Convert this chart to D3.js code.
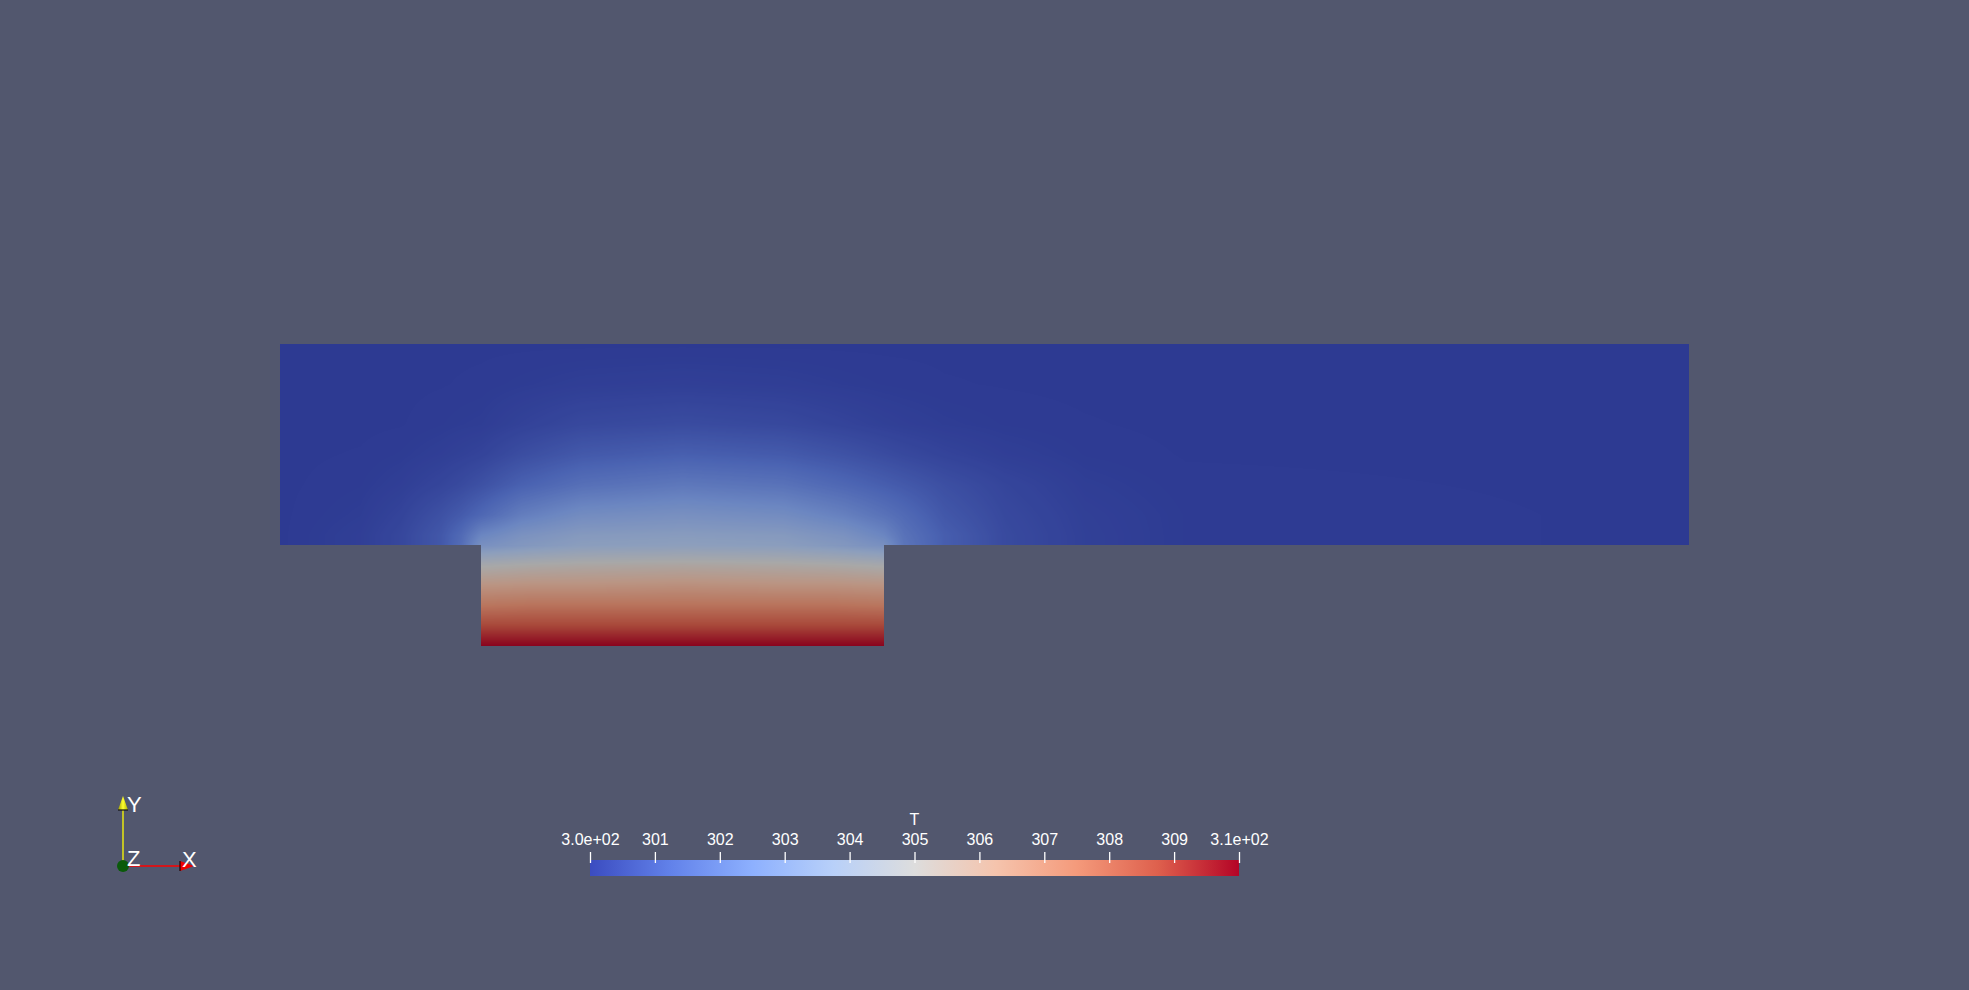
<!DOCTYPE html>
<html>
<head>
<meta charset="utf-8">
<script src="https://cdn.jsdelivr.net/npm/d3@7"></script>
<style>
  html, body { margin: 0; padding: 0; background: #52576e; overflow: hidden; }
  svg { display: block; }
  text { font-family: "Liberation Sans", Arial, sans-serif; fill: #ffffff; }
</style>
</head>
<body>
<script>
// ---------------- DATA ----------------
// Domain (data units): channel x 0..7, y 0..1 ; heated cavity x 1..3, y -0.5..0
const channelX = [0, 0.4, 0.6, 0.8, 0.9, 1.0, 1.2, 1.5, 2.0, 2.5, 2.8, 3.0, 3.1, 3.3, 3.6, 4.0, 4.5, 7];
const channelY = [0, 0.05, 0.15, 0.3, 0.45, 0.6, 0.8, 1.0];
// temperature T (K) sampled in the channel, one row per channelY value
const channelT = [
  [300, 300.15, 300.4, 300.9, 301.6, 303.0, 303.4, 303.7, 303.8, 303.7, 303.4, 303.0, 301.9, 301.1, 300.5, 300.2, 300.05, 300],
  [300, 300.15, 300.4, 300.9, 301.5, 302.5, 303.1, 303.5, 303.6, 303.5, 303.1, 302.5, 301.8, 301.1, 300.5, 300.2, 300.05, 300],
  [300, 300.1, 300.3, 300.7, 301.0, 301.4, 302.2, 302.8, 303.0, 302.8, 302.3, 301.8, 301.5, 300.9, 300.45, 300.18, 300.05, 300],
  [300, 300.05, 300.15, 300.35, 300.5, 300.7, 301.2, 301.7, 302.0, 301.8, 301.4, 301.1, 300.95, 300.65, 300.35, 300.12, 300.03, 300],
  [300, 300.02, 300.06, 300.15, 300.22, 300.3, 300.6, 300.95, 301.15, 301.0, 300.75, 300.55, 300.45, 300.3, 300.15, 300.05, 300.01, 300],
  [300, 300, 300.01, 300.05, 300.08, 300.1, 300.25, 300.45, 300.55, 300.45, 300.3, 300.2, 300.16, 300.1, 300.05, 300.02, 300, 300],
  [300, 300, 300, 300.01, 300.02, 300.03, 300.07, 300.13, 300.17, 300.13, 300.08, 300.05, 300.04, 300.02, 300.01, 300, 300, 300],
  [300, 300, 300, 300, 300, 300, 300, 300, 300, 300, 300, 300, 300, 300, 300, 300, 300, 300]
];
const cavityX = [1.0, 1.25, 1.5, 2.0, 2.5, 2.75, 3.0];
const cavityY = [-0.5, -0.4, -0.3, -0.2, -0.1, 0];
const cavityT = [
  [310, 310, 310, 310, 310, 310, 310],
  [308.8, 308.8, 308.8, 308.8, 308.8, 308.8, 308.8],
  [307.5, 307.6, 307.6, 307.6, 307.6, 307.6, 307.5],
  [306.3, 306.4, 306.4, 306.5, 306.4, 306.4, 306.3],
  [304.9, 305.1, 305.2, 305.3, 305.2, 305.1, 304.9],
  [303.0, 303.4, 303.7, 303.8, 303.7, 303.4, 303.0]
];
// colour map (Cool to Warm) and colour-bar ticks
const colorStopsT = [300, 301.25, 302.5, 303.75, 305, 306.25, 307.5, 308.75, 310];
const colorStops = ["#3b4cc0", "#6282ea", "#8db0fe", "#b8d0f9", "#dddddd", "#f5c4ad", "#f49a7b", "#de604d", "#b40426"];
const tickValues = [300, 301, 302, 303, 304, 305, 306, 307, 308, 309, 310];
const tickLabels = ["3.0e+02", "301", "302", "303", "304", "305", "306", "307", "308", "309", "3.1e+02"];
const barTitle = "T";

// ---------------- LAYOUT ----------------
const W = 1969, H = 990;
const x = d3.scaleLinear().domain([0, 7]).range([280, 1689]);
const y = d3.scaleLinear().domain([-0.5, 1]).range([646, 344]);
const color = d3.scaleLinear().domain(colorStopsT).range(colorStops).interpolate(d3.interpolateRgb).clamp(true);
const shade = 0.76;

const svg = d3.select("body").append("svg").attr("width", W).attr("height", H);
svg.append("rect").attr("width", W).attr("height", H).attr("fill", "#52576e");

// colour lookup table
const LUT_N = 1024;
const lut = d3.range(LUT_N).map(i => {
  const c = d3.rgb(color(300 + 10 * i / (LUT_N - 1)));
  return [c.r * shade, c.g * shade, c.b * shade];
});
const tToIdx = d3.scaleLinear().domain([300, 310]).range([0, LUT_N - 1]).clamp(true);

// ---------------- FIELD ----------------
const canvas = document.createElement("canvas");
canvas.width = W; canvas.height = H;
const ctx = canvas.getContext("2d");
const img = ctx.createImageData(W, H);

function paintRegion(xs, ys, rows) {
  const rowScales = rows.map(r => d3.scaleLinear().domain(xs).range(r));
  const px0 = Math.round(x(xs[0])), px1 = Math.round(x(xs[xs.length - 1]));
  const py0 = Math.round(y(ys[ys.length - 1])), py1 = Math.round(y(ys[0]));
  for (let px = px0; px < px1; px++) {
    const dx = x.invert(px + 0.5);
    const col = d3.scaleLinear().domain(ys).range(rowScales.map(s => s(dx)));
    for (let py = py0; py < py1; py++) {
      const t = col(y.invert(py + 0.5));
      const c = lut[Math.round(tToIdx(t))];
      const k = (py * W + px) * 4;
      img.data[k] = c[0]; img.data[k + 1] = c[1]; img.data[k + 2] = c[2]; img.data[k + 3] = 255;
    }
  }
}
paintRegion(channelX, channelY, channelT);
paintRegion(cavityX, cavityY, cavityT);
ctx.putImageData(img, 0, 0);
svg.append("image").attr("x", 0).attr("y", 0).attr("width", W).attr("height", H)
  .attr("href", canvas.toDataURL("image/png"));

// ---------------- COLOUR BAR ----------------
const bx = d3.scaleLinear().domain([300, 310]).range([590, 1239]);
const defs = svg.append("defs");
const grad = defs.append("linearGradient").attr("id", "cbar").attr("x1", "0%").attr("x2", "100%");
grad.selectAll("stop").data(colorStopsT).join("stop")
  .attr("offset", d => ((d - 300) / 10 * 100) + "%")
  .attr("stop-color", (d, i) => colorStops[i]);
svg.append("rect").attr("x", bx(300)).attr("y", 860).attr("width", bx(310) - bx(300)).attr("height", 16)
  .attr("fill", "url(#cbar)");

const axis = d3.axisTop(bx).tickValues(tickValues).tickSize(11).tickPadding(7)
  .tickFormat((d, i) => tickLabels[i]);
const ag = svg.append("g").attr("transform", "translate(0,863)").call(axis);
ag.select(".domain").remove();
ag.selectAll(".tick line").attr("stroke", "#ffffff").attr("stroke-width", 1.3);
ag.selectAll(".tick text").attr("fill", "#ffffff").style("font-size", "16px")
  .style("font-family", "'Liberation Sans', Arial, sans-serif");
svg.append("text").attr("x", bx(305)).attr("y", 825).attr("text-anchor", "middle")
  .style("font-size", "16px").text(barTitle);

// ---------------- ORIENTATION AXES ----------------
const ox = 123, oy = 866;
const oa = svg.append("g");
const yg = defs.append("linearGradient").attr("id", "ycone").attr("x1", "0%").attr("x2", "100%");
yg.append("stop").attr("offset", "0%").attr("stop-color", "#9a9a00");
yg.append("stop").attr("offset", "50%").attr("stop-color", "#ffff30");
yg.append("stop").attr("offset", "100%").attr("stop-color", "#b0b000");
oa.append("line").attr("x1", ox).attr("y1", oy).attr("x2", ox).attr("y2", 810)
  .attr("stroke", "#ffff00").attr("stroke-width", 1.3);
oa.append("path").attr("d", `M${ox},796 L${ox - 5},810 L${ox + 5},810 Z`).attr("fill", "url(#ycone)");
oa.append("line").attr("x1", ox - 5).attr("y1", 810).attr("x2", ox + 5).attr("y2", 810)
  .attr("stroke", "#111111").attr("stroke-width", 1.2);
oa.append("line").attr("x1", ox).attr("y1", oy).attr("x2", 180).attr("y2", oy)
  .attr("stroke", "#ff0000").attr("stroke-width", 1.3);
oa.append("path").attr("d", `M194,${oy} L180,${oy - 5} L180,${oy + 5} Z`).attr("fill", "#ee0000");
oa.append("line").attr("x1", 180).attr("y1", oy - 5).attr("x2", 180).attr("y2", oy + 5)
  .attr("stroke", "#220000").attr("stroke-width", 1.2);
oa.append("circle").attr("cx", ox).attr("cy", oy).attr("r", 6).attr("fill", "#0a5a0a");
oa.append("text").attr("x", 127).attr("y", 812).style("font-size", "22px").text("Y");
oa.append("text").attr("x", 127).attr("y", 866).style("font-size", "22px").text("Z");
oa.append("text").attr("x", 182).attr("y", 867).style("font-size", "22px").text("X");
</script>
</body>
</html>
